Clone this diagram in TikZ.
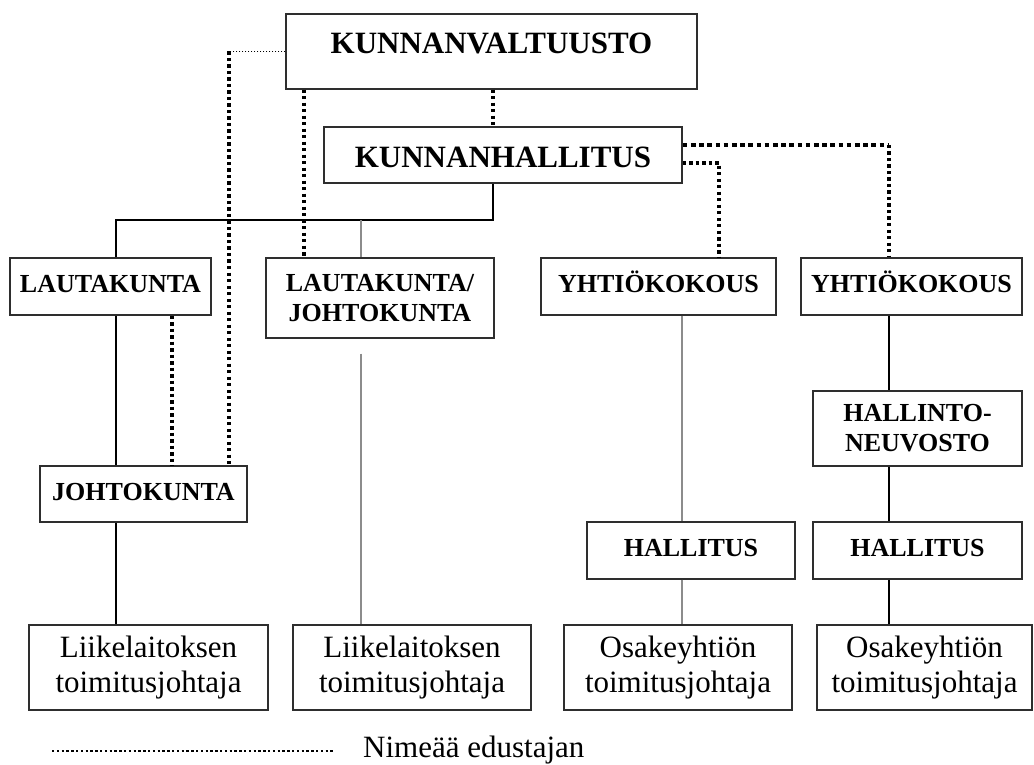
\documentclass[tikz,border=0pt]{standalone}
\usepackage{fontspec}
\setmainfont{Liberation Serif}
\definecolor{boxcol}{HTML}{2E2E2E}
\definecolor{greyline}{HTML}{8C8C8C}
\begin{document}
\begin{tikzpicture}[x=1pt,y=-1pt,
  box/.style={draw=boxcol, line width=1.4pt, inner sep=0pt, rectangle, fill=white},
  bigbold/.style={font=\fontsize{31}{35}\selectfont\bfseries},
  lblbold/.style={font=\fontsize{26}{30}\selectfont\bfseries},
  regtext/.style={font=\fontsize{31}{35}\selectfont},
  capline/.style={text height=17pt, text depth=5pt},
  solidline/.style={draw=black, line width=1.4pt},
  greyconn/.style={draw=greyline, line width=1.4pt},
  mydots/.style={draw=black, line width=3.3pt, dash pattern=on 3.3pt off 3.2pt},
  mybigdots/.style={draw=black, line width=4.6pt, dash pattern=on 4.6pt off 3.6pt},
  myfinedots/.style={draw=black, line width=1.6pt, dash pattern=on 1.6pt off 1.4pt},
  mylegdots/.style={draw=black, line width=2.4pt, dash pattern=on 2.4pt off 2.4pt}]
\useasboundingbox[fill=white] (0,0) rectangle (1034,765);

% named x positions of the connectors
\coordinate (xA) at (493,0);
\coordinate (xL) at (116,0);
\coordinate (xB) at (361,0);
\coordinate (xC) at (304,0);
\coordinate (xD) at (229,0);
\coordinate (xE) at (172,0);
\coordinate (xF) at (889,0);
\coordinate (xG) at (719,0);
\coordinate (xH) at (682,0);
\coordinate (jn) at (0,220);

% boxes
\node[box, bigbold, minimum width=411pt, minimum height=75pt, text height=20.5pt, text depth=16pt] (kv) at (491.5,51.5) {KUNNANVALTUUSTO};
\node[box, bigbold, minimum width=358pt, minimum height=56pt, text height=24.5pt, text depth=0pt] (kh) at (503,155) {KUNNANHALLITUS};

\node[box, lblbold, capline, minimum width=201pt, minimum height=57pt] (lk) at (110.5,286.5) {LAUTAKUNTA};
\node[box, lblbold, align=center, minimum width=228pt, minimum height=80pt] (lj) at (380,298) {LAUTAKUNTA/\\JOHTOKUNTA};
\node[box, lblbold, capline, minimum width=235pt, minimum height=57pt] (y1) at (658.5,286.5) {YHTIÖKOKOUS};
\node[box, lblbold, capline, minimum width=221pt, minimum height=57pt] (y2) at (911.5,286.5) {YHTIÖKOKOUS};

\node[box, lblbold, align=center, minimum width=209pt, minimum height=75pt] (hn) at (917.5,428.5) {HALLINTO-\\NEUVOSTO};
\node[box, lblbold, capline, minimum width=207pt, minimum height=56pt] (jk) at (143.5,494) {JOHTOKUNTA};
\node[box, lblbold, capline, minimum width=208pt, minimum height=57pt] (h1) at (691,550.5) {HALLITUS};
\node[box, lblbold, capline, minimum width=209pt, minimum height=57pt] (h2) at (917.5,550.5) {HALLITUS};

\node[box, regtext, align=center, minimum width=239pt, minimum height=85pt] (b1) at (148.5,667.5) {Liikelaitoksen\\toimitusjohtaja};
\node[box, regtext, align=center, minimum width=238pt, minimum height=85pt] (b2) at (412,667.5) {Liikelaitoksen\\toimitusjohtaja};
\node[box, regtext, align=center, minimum width=228pt, minimum height=85pt] (b3) at (678,667.5) {Osakeyhtiön\\toimitusjohtaja};
\node[box, regtext, align=center, minimum width=215pt, minimum height=85pt] (b4) at (924.5,667.5) {Osakeyhtiön\\toimitusjohtaja};

% solid hierarchy
\draw[solidline] (xA |- kh.south) -- (xA |- jn) -- (xL |- jn) -- (xL |- lk.north);
\draw[greyconn] (xB |- jn) -- (xB |- lj.north);
\draw[solidline] (xL |- lk.south) -- (xL |- jk.north);
\draw[solidline] (xL |- jk.south) -- (xL |- b1.north);
\draw[greyconn] ([yshift=-15pt]xB |- lj.south) -- (xB |- b2.north);
\draw[greyconn] (xH |- y1.south) -- (xH |- h1.north);
\draw[greyconn] (xH |- h1.south) -- (xH |- b3.north);
\draw[solidline] (xF |- y2.south) -- (xF |- hn.north);
\draw[solidline] (xF |- hn.south) -- (xF |- h2.north);
\draw[solidline] (xF |- h2.south) -- (xF |- b4.north);

% dotted "nimeää edustajan" links
\draw[mydots] (xA |- kv.south) -- (xA |- kh.north);
\draw[mydots] (xC |- kv.south) -- (xC |- lj.north);
\draw[myfinedots] (kv.west) -- (xD |- kv.west);
\draw[mydots] (xD |- kv.west) -- (xD |- jk.north);
\draw[mydots] (xE |- lk.south) -- (xE |- jk.north);
\coordinate (t1) at ([yshift=10pt]kh.east);
\coordinate (t2) at ([yshift=-8pt]kh.east);
\draw[mybigdots] (t1) -- (t1 -| xF);
\draw[mydots] (t1 -| xF) -- (xF |- y2.north);
\draw[mydots] (t2) -- (t2 -| xG) -- (xG |- y1.north);

% legend
\coordinate (lg1) at (52,751);
\coordinate (lg2) at (333,751);
\draw[mylegdots] (lg1) -- (lg2);
\node[regtext, anchor=base west, inner sep=0pt] (lgt) at (363,757) {Nimeää edustajan};
\end{tikzpicture}
\end{document}
